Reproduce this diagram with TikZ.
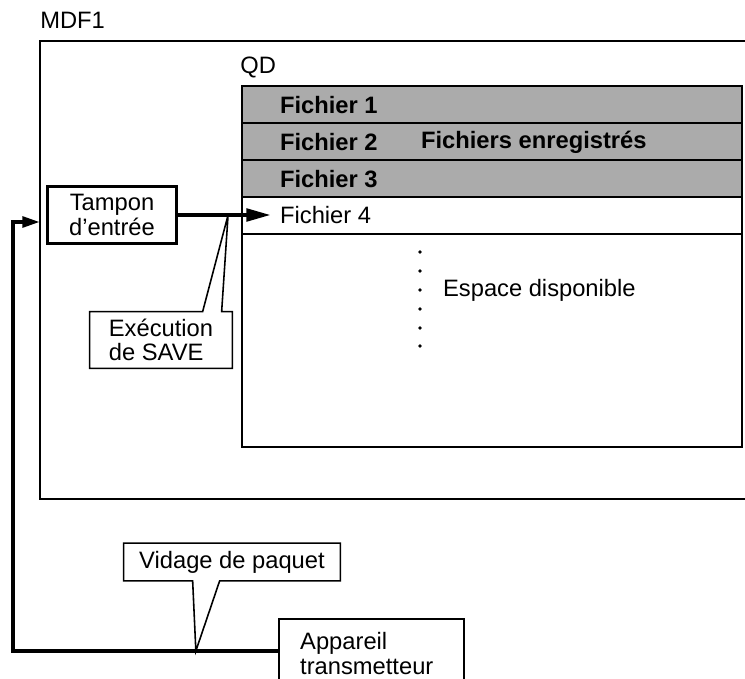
\documentclass[tikz,border=0pt]{standalone}
\usepackage{fontspec}
\setmainfont{Liberation Sans}
\usetikzlibrary{arrows.meta}
\newcommand{\diagfont}{\fontsize{13.5}{14}\selectfont}

\begin{document}
\begin{tikzpicture}[
    x=0.02cm, y=-0.02cm,
    font=\diagfont,
    % Linien und Kaesten
    frame/.style={line width=1.4pt},
    shaded/.style={draw, fill=black!33, line width=1.2pt},
    filetxt/.style={anchor=west, inner xsep=5pt, inner ysep=2pt},
    smallbox/.style={draw, line width=1.4pt, align=center, inner sep=0pt},
    callout/.style={line width=0.9pt, line join=miter},
    dataflow/.style={-{Triangle[length=14pt,width=7pt]}, line width=2.4pt},
    feedback/.style={-{Triangle[length=10pt,width=6pt]}, line width=2.2pt}
  ]
  \clip (0,0) rectangle (745,679);

  % --- MDF1 ---
  \node[anchor=west, inner sep=0pt] (mdf) at (40,20) {MDF1};
  \draw[frame] (745,41) -- (40,41) -- (40,499) -- (745,499);
  \coordinate (mdfin) at (40,222);

  % --- QD mit Dateien ---
  \node[anchor=west, inner sep=0pt] (qd) at (240,67) {QD};
  \foreach \ytop in {86,123,160}
    \draw[shaded] (242,\ytop) rectangle (742,\ytop+37);
  \draw[frame] (242,86) rectangle (742,447);
  \draw[line width=1.2pt] (242,234) -- (742,234);

  \node[filetxt] (f1) at (271,105) {\bfseries Fichier 1};
  \node[filetxt] (f2) at (271,142) {\bfseries Fichier 2};
  \node[filetxt] (f3) at (271,179) {\bfseries Fichier 3};
  \node[filetxt] (f4) at (271,215) {Fichier 4};
  \node[filetxt] (enreg) at (412,142) {\bfseries Fichiers enregistrés};

  \foreach \y in {252,271,290,309,328,346}
    \fill (420,\y) circle (1.1pt);
  \node[filetxt] (libre) at (434,290) {Espace disponible};

  % --- Tampon und SAVE ---
  \node[smallbox, minimum width=2.58cm, minimum height=1.14cm] (tampon) at (112,215) {Tampon\\d’entrée};
  \draw[dataflow] (tampon.east) -- (f4.west);
  \path (tampon.east) -- (f4.west) coordinate[pos=0.54] (save);

  \node[align=left, minimum width=2.84cm, minimum height=1.12cm, inner sep=0pt] (exec) at (161,340) {Exécution\\de SAVE};
  \draw[callout] (exec.north west) -- ([xshift=2.26cm]exec.north west) -- (save)
    -- ([xshift=2.64cm]exec.north west) -- (exec.north east) |- (exec.south west) -- cycle;

  % --- Rueckfuehrung ---
  \node[draw, frame, anchor=north west, minimum width=3.7cm, minimum height=1.38cm,
        text width=2.86cm, inner xsep=0.42cm, align=left] (appar) at (278,618) {Appareil\\transmetteur};
  \draw[feedback] ([yshift=-0.66cm]appar.north west) -- ++(-265,0) |- (mdfin);
  \path ([yshift=-0.66cm]appar.north west) -- ++(-265,0) coordinate[pos=0.31] (pkt);

  \node[minimum width=4.32cm, minimum height=0.74cm, inner sep=0pt] (vidage) at (232,562) {Vidage de paquet};
  \draw[callout] (vidage.south west) -- ([xshift=1.38cm]vidage.south west) -- (pkt)
    -- ([xshift=1.92cm]vidage.south west) -- (vidage.south east) |- (vidage.north west) -- cycle;
\end{tikzpicture}
\end{document}
